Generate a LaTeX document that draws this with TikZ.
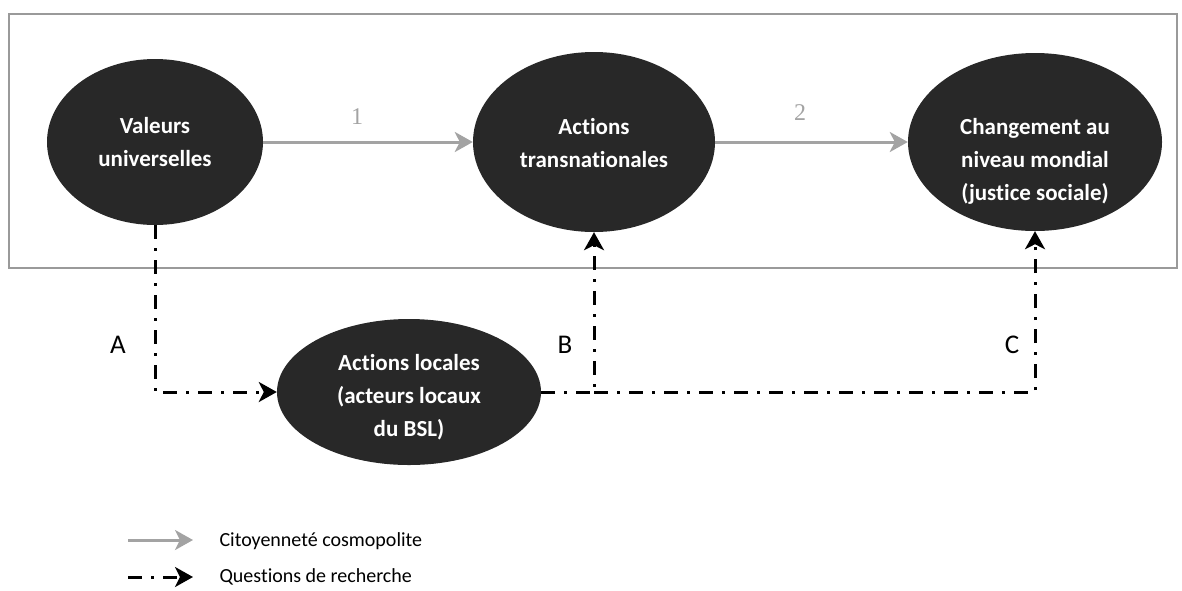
\documentclass[tikz,border=0pt]{standalone}
\usepackage{fontspec}
\setmainfont{Carlito}[Ligatures=NoCommon]
\newfontfamily\numfont{Liberation Serif}
\usetikzlibrary{shapes.geometric,arrows.meta}
\definecolor{ellfill}{HTML}{282828}
\definecolor{arrgray}{HTML}{A3A3A3}
\definecolor{framegray}{HTML}{9A9A9A}
\tikzset{
  ell/.style={ellipse, fill=ellfill, draw=none, inner sep=0pt},
  etext/.style={text=white, align=center, font=\fontsize{23}{33}\selectfont\bfseries},
  grayarrow/.style={draw=arrgray, line width=3pt, -{Stealth[length=18pt,width=20pt,inset=5pt]}},
  ddarrow/.style={draw=black, line width=3pt, dash pattern=on 14pt off 9pt on 3pt off 9pt, -{Stealth[length=18pt,width=20pt,inset=5pt]}},
  letter/.style={font=\fontsize{27}{30}\selectfont},
  num/.style={text=arrgray, font=\fontsize{24}{28}\selectfont\numfont},
  legtext/.style={anchor=west, font=\fontsize{20}{24}\selectfont}
}
\begin{document}
\begin{tikzpicture}[x=1pt,y=-1pt]
\useasboundingbox (0,0) rectangle (1182,590);
\node[draw=framegray, line width=2pt, minimum width=1168pt, minimum height=254pt, anchor=north west, inner sep=0pt] (frame) at (8,13) {};
% ellipses
\node[ell, minimum width=216pt, minimum height=166pt] (val) at (155,142) {};
\node[etext] (valt) at (155,142) {Valeurs\\universelles};
\node[ell, minimum width=242pt, minimum height=180pt] (trans) at (594,142) {};
\node[etext] (transt) at (594,143) {Actions\\transnationales};
\node[ell, minimum width=254pt, minimum height=178pt] (chg) at (1035,142) {};
\node[etext] (chgt) at (1035,161) {Changement au\\niveau mondial\\(justice sociale)};
\node[ell, minimum width=264pt, minimum height=146pt] (loc) at (409,392) {};
\node[etext] (loct) at (409,397) {Actions locales\\(acteurs locaux\\du BSL)};
% gray arrows
\draw[grayarrow] (val.east) -- (trans.west);
\draw[grayarrow] (trans.east) -- (chg.west);
\node[num] (n1) at (357,117) {1};
\node[num] (n2) at (800,113) {2};
% dash-dot arrows
\coordinate (j) at (trans.south |- loc.east);
\draw[ddarrow] (val.south) |- (loc.west);
\draw[ddarrow] (loc.east) -| (trans.south);
\draw[ddarrow] (j) -| (chg.south);
\node[letter] (la) at (118,345) {A};
\node[letter] (lb) at (565,345) {B};
\node[letter] (lc) at (1012,345) {C};
% legend
\coordinate (g1) at (128,540);
\coordinate (g2) at (193,540);
\coordinate (d1) at (128,577);
\coordinate (d2) at (193,577);
\draw[grayarrow] (g1) -- (g2);
\draw[ddarrow] (d1) -- (d2);
\node[legtext] (lt1) at (216,541) {Citoyenneté cosmopolite};
\node[legtext] (lt2) at (216,577) {Questions de recherche};
\end{tikzpicture}
\end{document}
